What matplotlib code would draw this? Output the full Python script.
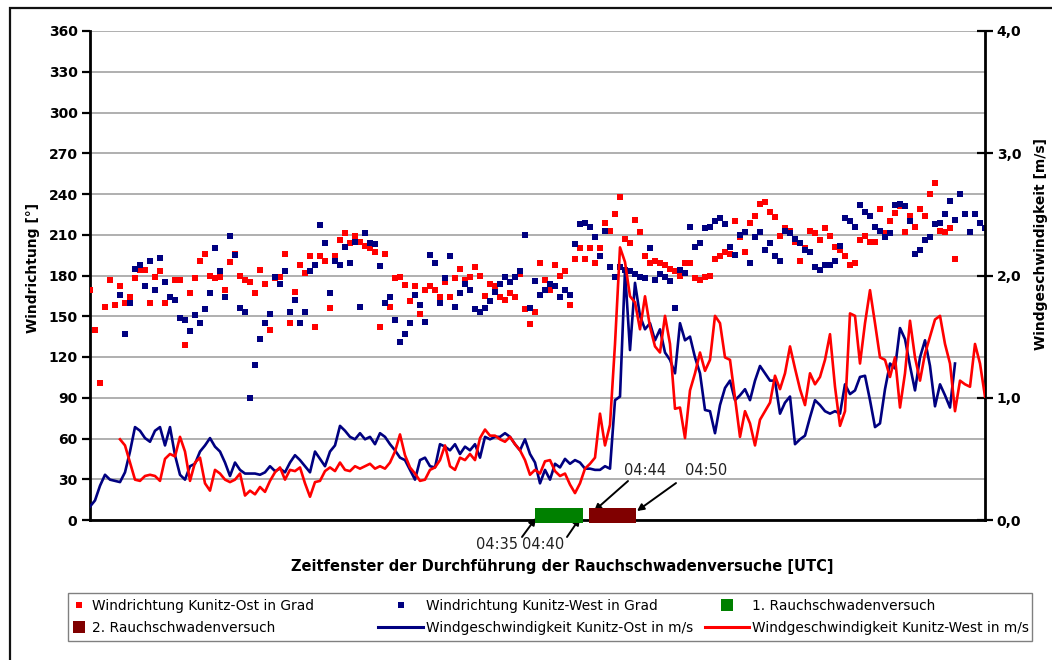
import numpy as np
import matplotlib
matplotlib.use("Agg")
import matplotlib.pyplot as plt
from matplotlib.lines import Line2D
from matplotlib.patches import Rectangle
from matplotlib.ticker import FuncFormatter, FixedLocator

plt.rcParams['font.family'] = ['DejaVu Sans']

# ---------------- data ----------------
# sampling index along the time window; station Ost starts at 0, West at 6
ost_start = 0
west_start = 6
x_max = 179

# Windrichtung Kunitz-Ost [deg]
dir_ost = [
    169, 140, 101, 157, 177, 158, 172, 160, 164, 178,
    184, 184, 160, 179, 183, 160, 164, 177, 177, 129,
    167, 178, 191, 196, 180, 178, 179, 169, 190, 196,
    180, 177, 175, 167, 184, 174, 140, 178, 179, 196,
    145, 168, 188, 182, 194, 142, 194, 191, 156, 194,
    206, 211, 204, 209, 205, 202, 200, 197, 142, 196,
    157, 178, 179, 173, 161, 172, 152, 169, 172, 169,
    164, 175, 164, 178, 185, 177, 179, 186, 180, 165,
    174, 172, 164, 162, 167, 164, 181, 155, 144, 153,
    189, 177, 169, 188, 180, 183, 158, 192, 200, 192,
    200, 189, 200, 219, 213, 225, 238, 207, 204, 221,
    212, 194, 189, 191, 189, 188, 185, 183, 180, 189,
    189, 178, 177, 179, 180, 192, 194, 197, 196, 220,
    208, 197, 219, 224, 233, 234, 227, 223, 209, 215,
    213, 205, 191, 200, 213, 211, 206, 215, 209, 201,
    199, 194, 188, 189, 206, 209, 205, 205, 229, 211,
    220, 226, 231, 212, 224, 216, 229, 224, 240, 248,
    213, 212, 215, 192]

# Windrichtung Kunitz-West [deg]
dir_west = [
    166, 137, 160, 185, 188, 172, 191, 169, 193, 175,
    164, 162, 149, 147, 139, 151, 145, 155, 167, 200,
    183, 164, 209, 195, 156, 153, 90, 114, 133, 145,
    152, 179, 174, 183, 153, 162, 145, 153, 183, 188,
    217, 204, 167, 191, 188, 201, 189, 205, 157, 211,
    204, 203, 187, 160, 164, 147, 131, 137, 145, 166,
    158, 146, 195, 189, 160, 178, 194, 157, 167, 174,
    169, 155, 153, 156, 161, 168, 174, 179, 175, 179,
    183, 210, 156, 176, 166, 169, 174, 172, 164, 169,
    166, 203, 218, 219, 216, 208, 194, 213, 186, 179,
    186, 184, 183, 181, 179, 178, 200, 177, 181, 179,
    176, 156, 184, 182, 216, 201, 204, 215, 216, 220,
    222, 218, 201, 195, 210, 212, 189, 208, 212, 199,
    204, 194, 191, 213, 211, 207, 204, 199, 197, 186,
    184, 188, 188, 191, 202, 222, 220, 216, 232, 227,
    224, 216, 213, 208, 211, 232, 233, 231, 220, 196,
    199, 206, 208, 218, 219, 225, 235, 221, 240, 225,
    212, 225, 219, 215]

# Windgeschwindigkeit Kunitz-Ost [m/s]
speed_ost = [
    0.11, 0.16, 0.28, 0.37, 0.33, 0.32, 0.31, 0.39, 0.56, 0.76,
    0.73, 0.67, 0.64, 0.73, 0.76, 0.61, 0.76, 0.53, 0.37, 0.33,
    0.44, 0.46, 0.56, 0.61, 0.67, 0.60, 0.56, 0.47, 0.36, 0.47,
    0.41, 0.38, 0.38, 0.38, 0.37, 0.39, 0.44, 0.40, 0.42, 0.39,
    0.47, 0.53, 0.49, 0.44, 0.39, 0.56, 0.50, 0.44, 0.56, 0.61,
    0.77, 0.73, 0.68, 0.66, 0.71, 0.66, 0.68, 0.62, 0.71, 0.68,
    0.62, 0.57, 0.51, 0.49, 0.41, 0.33, 0.49, 0.51, 0.44, 0.43,
    0.62, 0.60, 0.57, 0.62, 0.54, 0.60, 0.57, 0.62, 0.51, 0.68,
    0.66, 0.68, 0.68, 0.71, 0.68, 0.62, 0.57, 0.66, 0.54, 0.47,
    0.30, 0.41, 0.33, 0.46, 0.43, 0.50, 0.46, 0.49, 0.47, 0.42,
    0.42, 0.41, 0.41, 0.44, 0.42, 0.98, 1.01, 2.04, 1.39, 1.94,
    1.67, 1.56, 1.61, 1.47, 1.56, 1.37, 1.31, 1.20, 1.61, 1.47,
    1.50, 1.33, 1.20, 0.90, 0.89, 0.71, 0.94, 1.08, 1.14, 0.98,
    1.02, 1.07, 0.98, 1.14, 1.26, 1.20, 1.14, 1.14, 0.87, 0.96,
    1.01, 0.62, 0.66, 0.69, 0.84, 0.98, 0.94, 0.89, 0.87, 0.89,
    0.87, 1.11, 1.03, 1.06, 1.17, 1.18, 0.98, 0.76, 0.79, 1.07,
    1.28, 1.24, 1.57, 1.48, 1.26, 1.06, 1.33, 1.47, 1.26, 0.93,
    1.11, 1.02, 0.92, 1.28]

# Windgeschwindigkeit Kunitz-West [m/s]
speed_west = [
    0.66, 0.61, 0.47, 0.33, 0.32, 0.36, 0.37, 0.36, 0.32, 0.50,
    0.54, 0.52, 0.68, 0.56, 0.32, 0.47, 0.51, 0.30, 0.24, 0.41,
    0.38, 0.33, 0.31, 0.33, 0.38, 0.20, 0.24, 0.21, 0.27, 0.23,
    0.32, 0.39, 0.43, 0.33, 0.41, 0.40, 0.43, 0.30, 0.19, 0.31,
    0.32, 0.40, 0.43, 0.40, 0.47, 0.41, 0.40, 0.44, 0.42, 0.44,
    0.46, 0.42, 0.44, 0.42, 0.47, 0.56, 0.70, 0.53, 0.43, 0.38,
    0.32, 0.33, 0.41, 0.43, 0.49, 0.61, 0.44, 0.41, 0.51, 0.49,
    0.54, 0.49, 0.67, 0.74, 0.69, 0.69, 0.66, 0.64, 0.68, 0.62,
    0.57, 0.49, 0.37, 0.41, 0.38, 0.48, 0.49, 0.40, 0.36, 0.38,
    0.29, 0.22, 0.30, 0.42, 0.46, 0.51, 0.87, 0.61, 0.78, 1.44,
    2.23, 2.11, 1.83, 1.78, 1.56, 1.83, 1.58, 1.42, 1.37, 1.67,
    1.44, 0.91, 0.92, 0.67, 1.06, 1.20, 1.37, 1.22, 1.31, 1.67,
    1.61, 1.33, 1.31, 1.00, 0.68, 0.89, 0.79, 0.61, 0.82, 0.89,
    0.96, 1.18, 1.07, 1.20, 1.42, 1.24, 1.07, 0.94, 1.20, 1.11,
    1.17, 1.31, 1.52, 1.09, 0.77, 0.89, 1.69, 1.67, 1.28, 1.61,
    1.88, 1.61, 1.33, 1.31, 1.17, 1.33, 0.92, 1.20, 1.63, 1.33,
    1.14, 1.36, 1.50, 1.64, 1.67, 1.44, 1.28, 0.89, 1.14, 1.11,
    1.09, 1.44, 1.28, 1.01]

# smoke plume tests (start / end on the sampling index axis)
test_labels = ['1. Rauchschwadenversuch', '2. Rauchschwadenversuch']
test_start = [89.0, 99.8]
test_end = [98.6, 109.2]
test_times = [('04:35', '04:40'), ('04:44', '04:50')]

dir_ticks = [0, 30, 60, 90, 120, 150, 180, 210, 240, 270, 300, 330, 360]
speed_ticks = [0.0, 1.0, 2.0, 3.0, 4.0]

series_labels = ['Windrichtung Kunitz-Ost in Grad',
                 'Windrichtung Kunitz-West in Grad',
                 'Windgeschwindigkeit Kunitz-Ost in m/s',
                 'Windgeschwindigkeit Kunitz-West in m/s']

# ---------------- style ----------------
RED = '#FF0000'
NAVY = '#000080'
GREEN = '#008000'
DARKRED = '#800000'

W, H = 1052, 660
fig = plt.figure(figsize=(W / 100, H / 100), dpi=100)
fig.patch.set_facecolor('white')

# outer frame of the chart object
fig.add_artist(Rectangle((10 / W, -0.05), 1.2, 1 - 8 / H + 0.05,
                         transform=fig.transFigure, fill=False,
                         edgecolor='#111111', linewidth=1.6))

ax = fig.add_axes([90 / W, 1 - 520 / H, (985 - 90) / W, (520 - 31) / H])
ax2 = ax.twinx()

x_ost = ost_start + np.arange(len(dir_ost))
x_west = west_start + np.arange(len(dir_west))
xs_ost = ost_start + np.arange(len(speed_ost))
xs_west = west_start + np.arange(len(speed_west))

ax.plot(x_ost, dir_ost, ls='none', marker='s', ms=5.0, mew=0, color=RED, zorder=3)
ax.plot(x_west, dir_west, ls='none', marker='s', ms=5.0, mew=0, color=NAVY, zorder=3)

bar_colors = [GREEN, DARKRED]
for s, e, c in zip(test_start, test_end, bar_colors):
    ax.barh(3.5, e - s, left=s, height=11, color=c, zorder=5, clip_on=False)

ax2.plot(xs_ost, speed_ost, color=NAVY, lw=1.9, zorder=4)
ax2.plot(xs_west, speed_west, color=RED, lw=1.9, zorder=5)

ax.set_xlim(0, x_max)
ax.set_ylim(0, 360)
ax2.set_ylim(0, 4)
ax.yaxis.set_major_locator(FixedLocator(dir_ticks))
ax2.yaxis.set_major_locator(FixedLocator(speed_ticks))
ax2.yaxis.set_major_formatter(FuncFormatter(lambda v, p: f'{v:.1f}'.replace('.', ',')))
ax.set_xticks([])

ax.grid(axis='y', color='#9a9a9a', lw=1.1)
ax.set_axisbelow(True)

for a in (ax, ax2):
    a.spines['top'].set_visible(False)
    for sp in ('left', 'right', 'bottom'):
        a.spines[sp].set_linewidth(2.0)
        a.spines[sp].set_color('black')
ax.spines['right'].set_visible(False)
ax2.spines['left'].set_visible(False)
ax2.spines['bottom'].set_visible(False)

ax.tick_params(axis='y', length=6, width=1.6, pad=3, direction='out')
ax2.tick_params(axis='y', length=11, width=1.6, pad=3, direction='inout')
for lab in ax.get_yticklabels() + ax2.get_yticklabels():
    lab.set_fontsize(10)
    lab.set_fontweight('bold')

# axis titles
fig.text(33 / W, 1 - 268 / H, 'Windrichtung [°]', rotation=90, ha='center',
         va='center', fontsize=10, fontweight='bold')
fig.text(1041 / W, 1 - 244 / H, 'Windgeschwindigkeit [m/s]', rotation=90,
         ha='center', va='center', fontsize=10, fontweight='bold')
fig.text(562 / W, 1 - 567 / H,
         'Zeitfenster der Durchführung der Rauchschwadenversuche [UTC]',
         ha='center', va='center', fontsize=10.5, fontweight='bold')

# time annotations
arrow_kw = dict(arrowstyle='-|>', color='black', lw=1.4, mutation_scale=10,
                shrinkA=0, shrinkB=0)
t1s, t1e = test_times[0]
t2s, t2e = test_times[1]
ax.annotate('', xy=(test_start[0] + 0.2, 1.5), xytext=(test_start[0] - 2.6, -12.5),
            arrowprops=arrow_kw, annotation_clip=False)
ax.annotate('', xy=(test_end[0] - 0.6, 1.5), xytext=(test_end[0] - 3.2, -12.5),
            arrowprops=arrow_kw, annotation_clip=False)
ax.annotate('', xy=(test_start[1] + 1.0, 6.6), xytext=(test_start[1] + 7.8, 28.7),
            arrowprops=arrow_kw, annotation_clip=False)
ax.annotate('', xy=(test_end[1] + 0.2, 6.6), xytext=(test_end[1] + 8.0, 27.2),
            arrowprops=arrow_kw, annotation_clip=False)
txt_kw = dict(fontsize=10.5, ha='center', va='center', color='#222222', clip_on=False)
ax.text(test_start[0] - 7.6, -18.4, t1s, **txt_kw)
ax.text(test_end[0] - 8.0, -18.4, t1e, **txt_kw)
ax.text(test_start[1] + 11.2, 36.8, t2s, **txt_kw)
ax.text(test_end[1] + 14.0, 36.8, t2e, **txt_kw)

# legend: common frame + three columns (Excel layout, row-wise order)
fig.add_artist(Rectangle((68 / W, 1 - 641 / H), (1032 - 68) / W, 48 / H,
                         transform=fig.transFigure, fill=True, facecolor='white',
                         edgecolor='#808080', linewidth=1.0, zorder=1))
h_ost = Line2D([], [], ls='none', marker='s', ms=5, mew=0, color=RED)
h_west = Line2D([], [], ls='none', marker='s', ms=5, mew=0, color=NAVY)
h_t1 = Line2D([], [], ls='none', marker='s', ms=8, mew=0, color=GREEN)
h_t2 = Line2D([], [], ls='none', marker='s', ms=8, mew=0, color=DARKRED)
h_vo = Line2D([], [], color=NAVY, lw=2.2)
h_vw = Line2D([], [], color=RED, lw=2.2)

LFS = 9.9
leg_cols = [
    ([h_ost, h_t2], [series_labels[0], test_labels[1]], 69, 1.5),
    ([h_west, h_vo], [series_labels[1], series_labels[2]], 378, 3.3),
    ([h_t1, h_vw], [test_labels[0], series_labels[3]], 705, 3.2),
]
for hs, ls_, x0, hl in leg_cols:
    lg = fig.legend(hs, ls_, loc='center left', bbox_to_anchor=(x0 / W, 1 - 617 / H),
                    frameon=False, fontsize=LFS, handlelength=hl,
                    handletextpad=0.2, borderpad=0, borderaxespad=0,
                    labelspacing=0.62)
    lg.set_zorder(2)

fig.savefig('out.png', dpi=100, facecolor='white')
